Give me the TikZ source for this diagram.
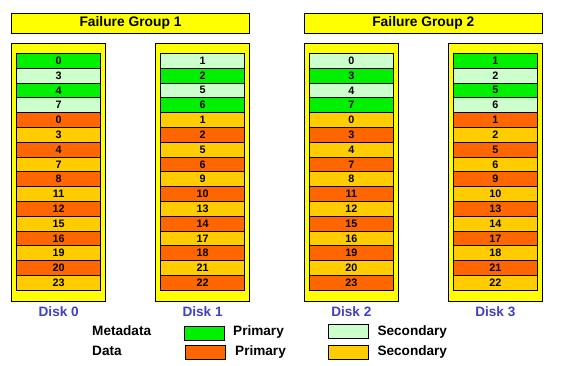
\documentclass[tikz,border=0pt]{standalone}
\usepackage{fontspec}
\setmainfont{Liberation Sans}
\definecolor{colA}{HTML}{00F000}
\definecolor{colB}{HTML}{CCFFCC}
\definecolor{colC}{HTML}{FF6600}
\definecolor{colD}{HTML}{FFCC00}
\definecolor{dyellow}{HTML}{FFFF00}
\definecolor{diskblue}{HTML}{4040C0}
\begin{document}
\begin{tikzpicture}[x=1pt,y=-1pt,
  cell/.style={draw=black, line width=0.8pt, minimum width=84pt, minimum height=14.8pt, inner sep=0pt,
    font=\fontsize{10.8}{10.8}\selectfont\bfseries},
  diskbox/.style={draw=black, line width=0.8pt, fill=dyellow, minimum width=94pt, minimum height=257.7pt, inner sep=0pt},
  fgbox/.style={draw=black, line width=0.8pt, fill=dyellow, minimum width=237.6pt, minimum height=20pt, inner sep=0pt,
    font=\fontsize{13.8}{13.8}\selectfont\bfseries},
  disklabel/.style={text=diskblue, inner sep=0pt, font=\fontsize{13.6}{13.6}\selectfont\bfseries},
  legtext/.style={anchor=west, inner sep=0pt, font=\fontsize{13.6}{13.6}\selectfont\bfseries},
  legbox/.style={draw=black, line width=0.8pt, minimum width=40pt, minimum height=14pt, inner sep=0pt}]
\useasboundingbox (0,0) rectangle (572,365);
\node[fgbox] (fg1) at (130.5,23.3) {Failure Group 1};
\node[fgbox] (fg2) at (423.3,23.3) {Failure Group 2};
\foreach \cx/\dn/\cells in {
  58.7/0/{0/A,3/B,4/A,7/B,0/C,3/D,4/C,7/D,8/C,11/D,12/C,15/D,16/C,19/D,20/C,23/D},
  202.6/1/{1/B,2/A,5/B,6/A,1/D,2/C,5/D,6/C,9/D,10/C,13/D,14/C,17/D,18/C,21/D,22/C},
  351.3/2/{0/B,3/A,4/B,7/A,0/D,3/C,4/D,7/C,8/D,11/C,12/D,15/C,16/D,19/C,20/D,23/C},
  495.3/3/{1/A,2/B,5/A,6/B,1/C,2/D,5/C,6/D,9/C,10/D,13/C,14/D,17/C,18/D,21/C,22/D}} {
  \node[diskbox] (disk\dn) at (\cx,172.15) {};
  \foreach \v/\c [count=\i from 0] in \cells {
    \node[cell, fill=col\c] (d\dn c\i) at (\cx,{60.7+\i*14.8}) {\v};
  }
  \node[disklabel] (lab\dn) at (\cx,312) {Disk \dn};
}
\node[legtext] (meta) at (92,331) {Metadata};
\node[legtext] (data) at (92,351) {Data};
\node[legbox, fill=colA] (lpm) at (204.3,332.9) {};
\node[legbox, fill=colC] (lpd) at (205.2,352.5) {};
\node[legbox, fill=colB] (lsm) at (348.3,331.2) {};
\node[legbox, fill=colD] (lsd) at (348.8,352) {};
\node[legtext] (tpm) at (233,332) {Primary};
\node[legtext] (tpd) at (235,352) {Primary};
\node[legtext] (tsm) at (377.3,331.5) {Secondary};
\node[legtext] (tsd) at (377.3,352) {Secondary};
\end{tikzpicture}
\end{document}
